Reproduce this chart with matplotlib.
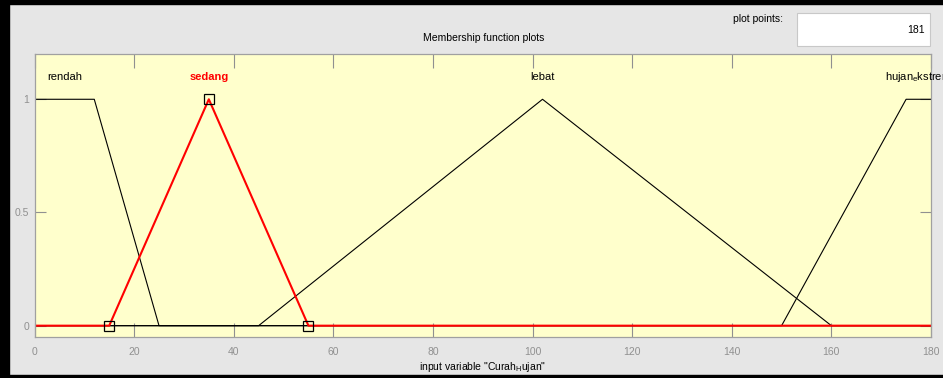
import matplotlib.pyplot as plt
from matplotlib.patches import Rectangle

plt.rcParams['font.family'] = ['Liberation Sans', 'DejaVu Sans']
plt.rcParams['mathtext.default'] = 'regular'

# Fungsi keanggotaan input "Curah_Hujan" (titik sudut tiap kurva)
rendah_x = [0, 12, 25, 180]
rendah_y = [1, 1, 0, 0]
sedang_x = [0, 15, 35, 55, 180]
sedang_y = [0, 0, 1, 0, 0]
lebat_x = [0, 45, 102, 160, 180]
lebat_y = [0, 0, 1, 0, 0]
ekstrem_x = [0, 150, 175, 180]
ekstrem_y = [0, 0, 1, 1]

# Titik puncak/kaki sedang yang ditandai kotak
sedang_mark_x = [15, 35, 55]
sedang_mark_y = [0, 1, 0]

# Label tiap fungsi: (teks, posisi x)
mf_labels = [('rendah', 6), ('sedang', 35), ('lebat', 102), ('hujan$_{e}$kstrem', 177.5)]
x_ticks = [0, 20, 40, 60, 80, 100, 120, 140, 160, 180]
y_ticks = [0, 0.5, 1]
n_points = 181

W, H = 943, 378
fig = plt.figure(figsize=(W / 100, H / 100), dpi=100)
fig.patch.set_facecolor('#e6e6e6')

# bingkai hitam jendela
fig.patches.append(Rectangle((0, 0), 9 / W, 1, transform=fig.transFigure,
                             color='black', zorder=0))
fig.patches.append(Rectangle((0, 0), 1, 3 / H, transform=fig.transFigure,
                             color='black', zorder=0))
fig.patches.append(Rectangle((0, 1 - 4 / H), 1, 4 / H, transform=fig.transFigure,
                             color='black', zorder=0))

ax = fig.add_axes([34.5 / W, 1 - 337 / H, (931 - 34.5) / W, (337 - 54) / H])
ax.set_facecolor('#ffffcc')

ax.plot(rendah_x, rendah_y, color='black', lw=0.8)
ax.plot(lebat_x, lebat_y, color='black', lw=0.8)
ax.plot(ekstrem_x, ekstrem_y, color='black', lw=0.8)
ax.plot(sedang_x, sedang_y, color='red', lw=1.5)
ax.plot(sedang_mark_x, sedang_mark_y, 's', ms=7, mfc='none', mec='black',
        mew=0.9, clip_on=False)

for name, xpos in mf_labels:
    if name == 'sedang':
        ax.text(xpos, 1.1, name, color='red', fontweight='bold', fontsize=8,
                ha='center', va='center')
    else:
        ax.text(xpos, 1.1, name, color='black', fontsize=8,
                ha='center', va='center', clip_on=False)

ax.set_xlim(0, 180)
ax.set_ylim(-0.05, 1.2)
ax.set_xticks(x_ticks)
ax.set_yticks(y_ticks)
ax.set_yticklabels(['0', '0.5', '1'])
ax.tick_params(axis='x', direction='in', length=10, width=0.8, colors='#909090',
               labelsize=7.5, pad=7, top=True)
ax.tick_params(axis='y', direction='in', length=8, width=0.8, colors='#909090',
               labelsize=7.5, pad=4, right=True)
for sp in ax.spines.values():
    sp.set_color('#a0a0a0')
    sp.set_linewidth(0.9)

ax.set_xlabel('input variable "Curah$_{H}$ujan"', fontsize=7.5, labelpad=2)

fig.text(484 / W, 1 - 38 / H, 'Membership function plots', fontsize=7.5,
         ha='center', va='center')
fig.text(758 / W, 1 - 19 / H, 'plot points:', fontsize=7.5,
         ha='center', va='center')
fig.patches.append(Rectangle((797 / W, 1 - 46 / H), 133 / W, 33 / H,
                             transform=fig.transFigure, facecolor='white',
                             edgecolor='#c8c8c8', lw=0.8))
fig.text(925 / W, 1 - 30 / H, str(n_points), fontsize=7.5, ha='right', va='center')

fig.savefig('out.png', dpi=100, facecolor=fig.get_facecolor())
